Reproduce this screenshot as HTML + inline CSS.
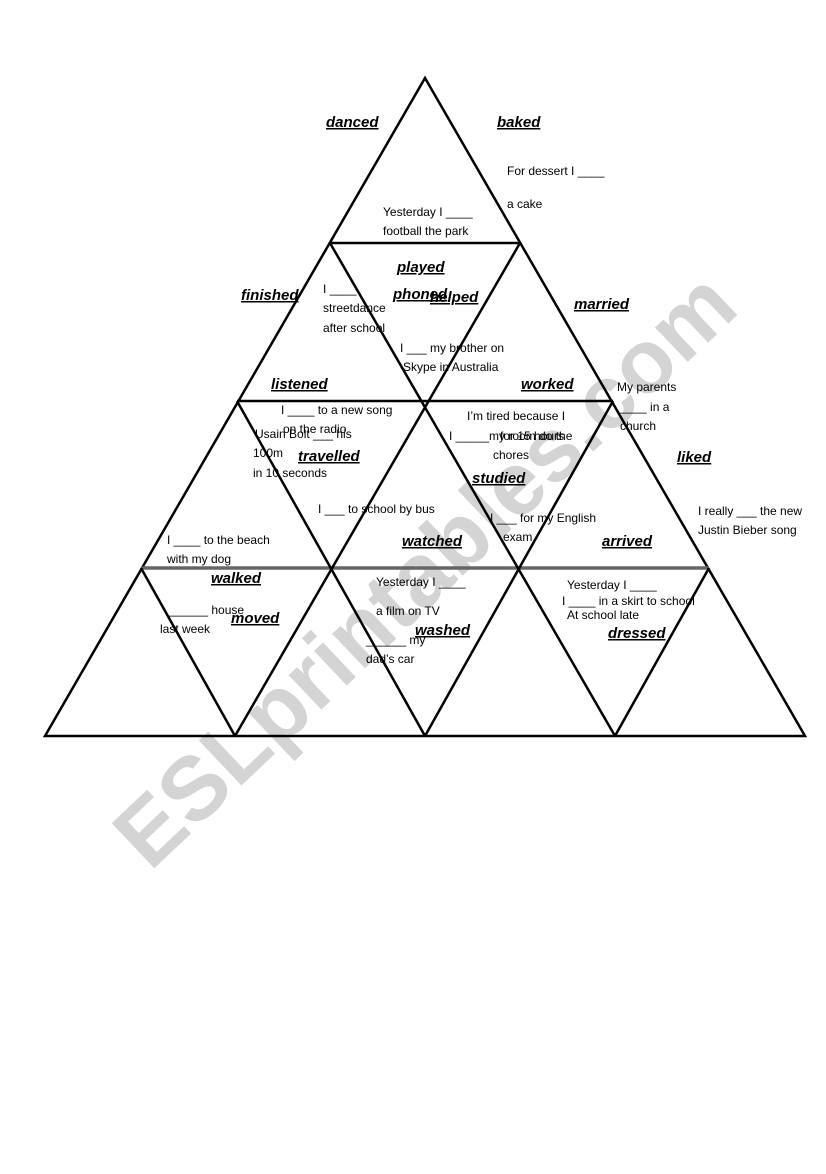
<!DOCTYPE html>
<html><head><meta charset="utf-8"><style>
body{margin:0;background:#fff}
svg text{font-family:"Liberation Sans",sans-serif}
.w{font-size:15px;font-weight:bold;font-style:italic;text-decoration:underline}
.s{font-size:12px}
</style></head><body>
<svg width="826" height="1169" viewBox="0 0 826 1169" xmlns="http://www.w3.org/2000/svg">
<text x="425" y="600" transform="rotate(-43.5 425 570)" text-anchor="middle" font-size="90" font-weight="bold" fill="#d4d4d4" style="font-family:'Liberation Sans',sans-serif">ESLprintables.com</text>
<g stroke="#000" stroke-width="2.5" fill="none">
<polygon points="425,78 45,736 805,736"/>
<line x1="330" y1="243" x2="520" y2="243"/>
<line x1="237" y1="401" x2="613" y2="401"/>
<line x1="141" y1="568" x2="709" y2="568" stroke="#666" stroke-width="3.5"/>
<line x1="235" y1="736" x2="520" y2="243"/>
<line x1="425" y1="736" x2="613" y2="401"/>
<line x1="615" y1="736" x2="709" y2="568"/>
<line x1="615" y1="736" x2="330" y2="243"/>
<line x1="425" y1="736" x2="237" y2="401"/>
<line x1="235" y1="736" x2="141" y2="568"/>
</g>
<g fill="#000">
<text class="w" x="326" y="127">danced</text>
<text class="w" x="497" y="127">baked</text>
<text class="s" x="507" y="175" font-size="13">For dessert I ____</text>
<text class="s" x="507" y="208" font-size="13">a cake</text>
<text class="s" x="383" y="216">Yesterday I ____</text>
<text class="s" x="383" y="235">football the park</text>
<text class="w" x="397" y="272">played</text>
<text class="w" x="241" y="300">finished</text>
<text class="w" x="393" y="299">phoned</text>
<text class="w" x="430" y="302">helped</text>
<text class="w" x="574" y="309">married</text>
<text class="s" x="323" y="293">I ____</text>
<text class="s" x="323" y="312">streetdance</text>
<text class="s" x="323" y="332">after school</text>
<text class="s" x="400" y="352">I ___  my brother on</text>
<text class="s" x="403" y="371">Skype in Australia</text>
<text class="w" x="271" y="389">listened</text>
<text class="w" x="521" y="389">worked</text>
<text class="s" x="617" y="391">My parents</text>
<text class="s" x="620" y="411">____ in a</text>
<text class="s" x="620" y="430">church</text>
<text class="s" x="281" y="414">I ____ to a new song</text>
<text class="s" x="283" y="433">on the radio</text>
<text class="s" x="255" y="438">Usain Bolt ___ his</text>
<text class="s" x="253" y="457">100m</text>
<text class="w" x="298" y="461">travelled</text>
<text class="s" x="253" y="477">in 10 seconds</text>
<text class="s" x="467" y="420">I’m tired because I</text>
<text class="s" x="449" y="440">I _____my room do the</text>
<text class="s" x="500" y="440">for 15 hours</text>
<text class="s" x="493" y="459">chores</text>
<text class="w" x="472" y="483">studied</text>
<text class="w" x="677" y="462">liked</text>
<text class="s" x="698" y="515">I really ___ the new</text>
<text class="s" x="698" y="534">Justin Bieber song</text>
<text class="s" x="318" y="513">I ___ to school by bus</text>
<text class="s" x="490" y="522">I ___ for my English</text>
<text class="s" x="503" y="541">exam</text>
<text class="w" x="402" y="546">watched</text>
<text class="w" x="602" y="546">arrived</text>
<text class="s" x="167" y="544">I ____ to the beach</text>
<text class="s" x="167" y="563">with my dog</text>
<text class="w" x="211" y="583">walked</text>
<text class="s" x="376" y="586">Yesterday I ____</text>
<text class="s" x="567" y="589">Yesterday I ____</text>
<text class="s" x="562" y="605">I ____ in a skirt to school</text>
<text class="s" x="567" y="619">At school late</text>
<text class="s" x="168" y="614">______ house</text>
<text class="s" x="160" y="633">last week</text>
<text class="w" x="231" y="623">moved</text>
<text class="s" x="376" y="615">a film on TV</text>
<text class="w" x="415" y="635">washed</text>
<text class="s" x="366" y="644">______ my</text>
<text class="s" x="366" y="663">dad’s car</text>
<text class="w" x="608" y="638">dressed</text>
</g>
</svg>
</body></html>
